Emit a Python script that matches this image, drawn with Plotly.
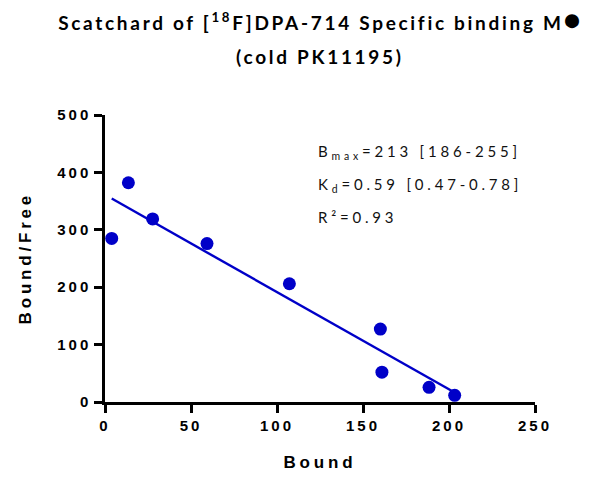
import plotly.graph_objects as go

# ---- data ----
bound = [3.9, 13.6, 27.7, 59.3, 107.2, 160.1, 161.0, 188.4, 203.3]
bound_free = [285, 382, 319, 276, 206, 127, 52, 25.6, 11.7]
bmax = 213
kd = 0.59
x_ticks = [0, 50, 100, 150, 200, 250]
y_ticks = [0, 100, 200, 300, 400, 500]
title_line1 = "Scatchard of [<sup>18</sup>F]DPA-714 Specific binding M<span style='font-size:28px'>\u25cf</span>"
title_line2 = "(cold PK11195)"
x_label = "Bound"
y_label = "Bound/Free"
stats = ["B<sub>max</sub>=213 [186-255]", "K<sub>d</sub>=0.59 [0.47-0.78]", "R\u00b2=0.93"]
stats_y = [436, 378, 322]

blue = "#0000C8"
label_font = "Liberation Sans, Arial, sans-serif"
title_font = "Lato, Open Sans, sans-serif"

fit_x = [min(bound), max(bound)]
fit_y = [(bmax - v) / kd for v in fit_x]

fig = go.Figure()
fig.add_trace(go.Scatter(x=fit_x, y=fit_y, mode="lines",
                         line=dict(color=blue, width=2.4), hoverinfo="skip"))
fig.add_trace(go.Scatter(x=bound, y=bound_free, mode="markers",
                         marker=dict(color=blue, size=13, line=dict(width=0))))

for txt, yy in zip(stats, stats_y):
    fig.add_annotation(x=122.5, y=yy, xref="x", yref="y", text=txt,
                       showarrow=False, xanchor="left", yanchor="middle", align="left",
                       font=dict(family=title_font, size=15, color="#111"))

# titles as annotations (paper coords)
fig.add_annotation(x=0.501, y=1.335, xref="paper", yref="paper", text=title_line1,
                   showarrow=False, xanchor="center", yanchor="middle",
                   font=dict(family=title_font, size=19, color="black", weight="bold"))
fig.add_annotation(x=0.5, y=1.205, xref="paper", yref="paper", text=title_line2,
                   showarrow=False, xanchor="center", yanchor="middle",
                   font=dict(family=title_font, size=19, color="black", weight="bold"))
fig.add_annotation(x=0.5, y=-0.21, xref="paper", yref="paper", text=x_label,
                   showarrow=False, xanchor="center", yanchor="middle",
                   font=dict(family=label_font, size=17, color="black", weight="bold"))
fig.add_annotation(x=-0.184, y=0.5, xref="paper", yref="paper", text=y_label,
                   showarrow=False, xanchor="center", yanchor="middle", textangle=-90,
                   font=dict(family=label_font, size=17, color="black", weight="bold"))

axis_common = dict(showline=True, linecolor="black", linewidth=2.5,
                   ticks="outside", ticklen=8, tickwidth=2.5, tickcolor="black",
                   showgrid=False, zeroline=False, automargin=False,
                   tickfont=dict(family=label_font, size=15, color="black", weight="bold"))

fig.update_layout(
    width=589, height=477,
    margin=dict(l=105, r=54, t=115, b=75, autoexpand=False),
    paper_bgcolor="white", plot_bgcolor="white",
    showlegend=False,
    xaxis=dict(range=[0, 250], tickvals=x_ticks, **axis_common),
    yaxis=dict(range=[0, 500], tickvals=y_ticks, **axis_common),
)

post = """
document.body.style.margin = '0';
document.body.style.padding = '0';
var gd = document.getElementById('{plot_id}');
function spacing(){
  var set = function(sel, v){ gd.querySelectorAll(sel).forEach(function(t){ t.style.letterSpacing = v; }); };
  set('.xtick text', '3px');
  set('.ytick text', '3px');
  set('.annotation-text', '3.8px');
  var anns = gd.querySelectorAll('.annotation-text');
  anns.forEach(function(t){
    var s = t.textContent;
    if (s.indexOf('Scatchard') === 0 || s.indexOf('(cold') === 0) { t.style.letterSpacing = '2.7px'; }
    if (s === 'Bound' || s === 'Bound/Free') { t.style.letterSpacing = '3.8px'; }
  });
}
spacing();
gd.on('plotly_afterplot', spacing);
"""
fig.write_html("out.html", post_script=post, config={"displayModeBar": False})
